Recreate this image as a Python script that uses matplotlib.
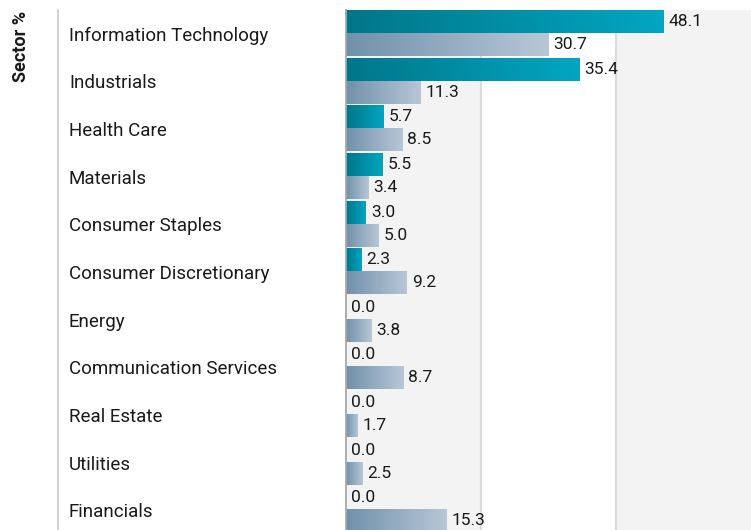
import numpy as np
import matplotlib.pyplot as plt
from matplotlib.lines import Line2D
import matplotlib.transforms as mtransforms

plt.rcParams['font.family'] = ['Roboto', 'DejaVu Sans']

# data
sectors = ['Information Technology', 'Industrials', 'Health Care', 'Materials',
           'Consumer Staples', 'Consumer Discretionary', 'Energy',
           'Communication Services', 'Real Estate', 'Utilities', 'Financials']
fund = [48.1, 35.4, 5.7, 5.5, 3.0, 2.3, 0.0, 0.0, 0.0, 0.0, 0.0]
index = [30.7, 11.3, 8.5, 3.4, 5.0, 9.2, 3.8, 8.7, 1.7, 2.5, 15.3]

W, H = 751, 530
fig = plt.figure(figsize=(W / 100, H / 100), dpi=100)
ax = fig.add_axes([346 / W, -4 / H, 405 / W, 524 / H])

xmax = 61.4
ax.set_xlim(0, xmax)
ax.set_ylim(len(sectors) - 0.5, -0.5)

# background bands in thirds
ax.axvspan(0, xmax / 3, color='#f3f3f3', zorder=0, lw=0)
ax.axvspan(2 * xmax / 3, xmax, color='#f3f3f3', zorder=0, lw=0)
for g in (xmax / 3, 2 * xmax / 3):
    ax.axvline(g, color='#dcdcdc', lw=1.6, zorder=0.5)

pos = np.arange(len(sectors))
bh = 0.483
b1 = ax.barh(pos - 0.5 + bh / 2, fund, height=bh, color='none', lw=0, zorder=2)
b2 = ax.barh(pos - 0.5 + bh * 1.5, index, height=bh, color='none', lw=0, zorder=2)

def grad(c0, c1):
    c0 = np.array(plt.matplotlib.colors.to_rgb(c0))
    c1 = np.array(plt.matplotlib.colors.to_rgb(c1))
    t = np.linspace(0, 1, 256)[:, None]
    return (c0 + (c1 - c0) * t)[None, :, :]

def fill(bars, c0, c1):
    img = grad(c0, c1)
    for p in bars.patches:
        x0, y0 = p.get_x(), p.get_y()
        w, h = p.get_width(), p.get_height()
        if w <= 0:
            continue
        im = ax.imshow(img, extent=(x0, x0 + w, y0 + h, y0), aspect='auto',
                       zorder=2, interpolation='bilinear')
        im.set_clip_path(p)

fill(b1, '#007689', '#00a6c2')
fill(b2, '#7191aa', '#b7c7d7')

off = mtransforms.offset_copy(ax.transData, fig=fig, x=5, y=0, units='dots')
for bars, vals in ((b1, fund), (b2, index)):
    for p, v in zip(bars.patches, vals):
        ax.text(v, p.get_y() + p.get_height() / 2, f'{v:.1f}', transform=off,
                ha='left', va='center', fontsize=12.5, color='#1a1a1a',
                zorder=3, clip_on=False)

ax.set_yticks(pos)
ax.set_yticklabels(sectors, fontsize=13.5, color='#1a1a1a')
for lab in ax.get_yticklabels():
    lab.set_horizontalalignment('left')
ax.tick_params(axis='y', length=0, pad=(346 - 69) * 0.72)
ax.set_xticks([])
for s in ('top', 'right', 'bottom'):
    ax.spines[s].set_visible(False)
ax.spines['left'].set_color('#a8a8a8')
ax.spines['left'].set_linewidth(1.3)
ax.spines['left'].set_zorder(4)

fig.add_artist(Line2D([58 / W, 58 / W], [0, 520 / H], color='#cccccc', lw=1.3))
fig.text(21 / W, 1 - 46 / H, 'Sector %', rotation=90, ha='center', va='center',
         fontsize=13, fontweight='bold', color='#1a1a1a')

fig.savefig('out.png', dpi=100)
